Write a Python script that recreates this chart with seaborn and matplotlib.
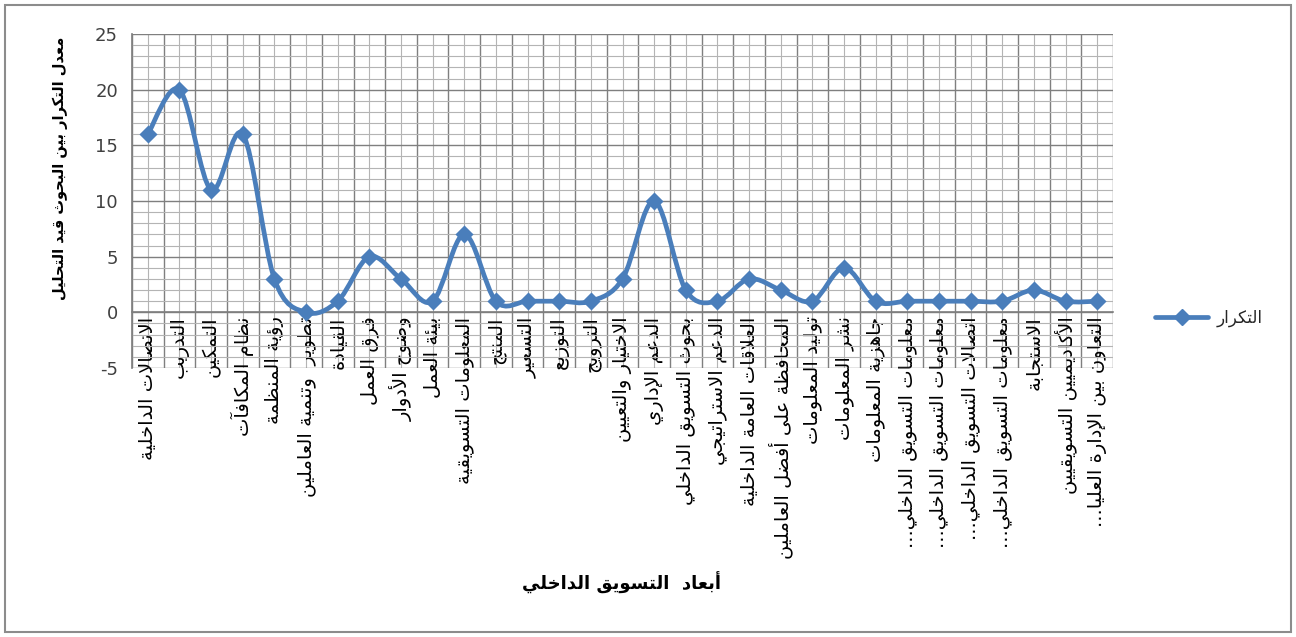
import numpy as np
import pandas as pd
import matplotlib
matplotlib.use("Agg")
import matplotlib.pyplot as plt
import seaborn as sns
from matplotlib.path import Path
from matplotlib.patches import PathPatch, Rectangle
from matplotlib.lines import Line2D
from matplotlib.ticker import MultipleLocator, FixedLocator, NullFormatter, FixedFormatter

# ---------------- data ----------------
categories = [
    "الاتصالات الداخلية", "التدريب", "التمكين", "نظام المكافآت", "رؤية المنظمة",
    "تطوير  وتنمية العاملين", "القيادة", "فرق العمل", "وضوح الأدوار", "بيئة العمل",
    "المعلومات التسويقية", "المنتج", "التسعير", "التوزيع", "الترويج",
    "الاختيار والتعيين", "الدعم الإداري", "بحوث التسويق الداخلي", "الدعم الاستراتيجي",
    "العلاقات العامة الداخلية", "المحافظة على أفضل العاملين", "توليد المعلومات",
    "نشر المعلومات", "جاهزية المعلومات", "معلومات التسويق الداخلي...",
    "معلومات التسويق الداخلي...", "اتصالات التسويق الداخلي...",
    "معلومات التسويق الداخلي...", "الاستجابة", "الأكاديميين التسويقيين",
    "التعاون بين الإدارة العليا...",
]
values = [16, 20, 11, 16, 3, 0, 1, 5, 3, 1, 7, 1, 1, 1, 1, 3, 10, 2, 1, 3, 2, 1, 4, 1, 1, 1, 1, 1, 2, 1, 1]
series_name = "التكرار"
y_label = "معدل التكرار بين البحوث قيد التحليل"
x_label = "أبعاد  التسويق الداخلي"
y_ticks = [-5, 0, 5, 10, 15, 20, 25]

# ---------------- simple Arabic shaping ----------------
_FORMS = {  # isolated, final, initial, medial
    0x0621: (0xFE80, None, None, None),
    0x0622: (0xFE81, 0xFE82, None, None), 0x0623: (0xFE83, 0xFE84, None, None),
    0x0624: (0xFE85, 0xFE86, None, None), 0x0625: (0xFE87, 0xFE88, None, None),
    0x0626: (0xFE89, 0xFE8A, 0xFE8B, 0xFE8C), 0x0627: (0xFE8D, 0xFE8E, None, None),
    0x0628: (0xFE8F, 0xFE90, 0xFE91, 0xFE92), 0x0629: (0xFE93, 0xFE94, None, None),
    0x062A: (0xFE95, 0xFE96, 0xFE97, 0xFE98), 0x062B: (0xFE99, 0xFE9A, 0xFE9B, 0xFE9C),
    0x062C: (0xFE9D, 0xFE9E, 0xFE9F, 0xFEA0), 0x062D: (0xFEA1, 0xFEA2, 0xFEA3, 0xFEA4),
    0x062E: (0xFEA5, 0xFEA6, 0xFEA7, 0xFEA8), 0x062F: (0xFEA9, 0xFEAA, None, None),
    0x0630: (0xFEAB, 0xFEAC, None, None), 0x0631: (0xFEAD, 0xFEAE, None, None),
    0x0632: (0xFEAF, 0xFEB0, None, None), 0x0633: (0xFEB1, 0xFEB2, 0xFEB3, 0xFEB4),
    0x0634: (0xFEB5, 0xFEB6, 0xFEB7, 0xFEB8), 0x0635: (0xFEB9, 0xFEBA, 0xFEBB, 0xFEBC),
    0x0636: (0xFEBD, 0xFEBE, 0xFEBF, 0xFEC0), 0x0637: (0xFEC1, 0xFEC2, 0xFEC3, 0xFEC4),
    0x0638: (0xFEC5, 0xFEC6, 0xFEC7, 0xFEC8), 0x0639: (0xFEC9, 0xFECA, 0xFECB, 0xFECC),
    0x063A: (0xFECD, 0xFECE, 0xFECF, 0xFED0), 0x0641: (0xFED1, 0xFED2, 0xFED3, 0xFED4),
    0x0642: (0xFED5, 0xFED6, 0xFED7, 0xFED8), 0x0643: (0xFED9, 0xFEDA, 0xFEDB, 0xFEDC),
    0x0644: (0xFEDD, 0xFEDE, 0xFEDF, 0xFEE0), 0x0645: (0xFEE1, 0xFEE2, 0xFEE3, 0xFEE4),
    0x0646: (0xFEE5, 0xFEE6, 0xFEE7, 0xFEE8), 0x0647: (0xFEE9, 0xFEEA, 0xFEEB, 0xFEEC),
    0x0648: (0xFEED, 0xFEEE, None, None), 0x0649: (0xFEEF, 0xFEF0, None, None),
    0x064A: (0xFEF1, 0xFEF2, 0xFEF3, 0xFEF4),
}
_LAMALEF = {0x0622: (0xFEF5, 0xFEF6), 0x0623: (0xFEF7, 0xFEF8),
            0x0625: (0xFEF9, 0xFEFA), 0x0627: (0xFEFB, 0xFEFC)}


def _dual(c):
    f = _FORMS.get(ord(c)) if c else None
    return f is not None and f[2] is not None


def _joins(c):
    f = _FORMS.get(ord(c)) if c else None
    return f is not None and f[1] is not None


def shape(text):
    chars = list(text)
    out = []
    i = 0
    n = len(chars)
    while i < n:
        c = chars[i]
        code = ord(c)
        prev = chars[i - 1] if i > 0 else None
        nxt = chars[i + 1] if i + 1 < n else None
        if code not in _FORMS:
            out.append(c)
            i += 1
            continue
        jp = _dual(prev) and _joins(c)
        if code == 0x0644 and nxt is not None and ord(nxt) in _LAMALEF:
            iso, fin = _LAMALEF[ord(nxt)]
            out.append(chr(fin if jp else iso))
            i += 2
            continue
        jn = _dual(c) and _joins(nxt)
        f = _FORMS[code]
        if jp and jn:
            g = f[3]
        elif jp:
            g = f[1]
        elif jn:
            g = f[2]
        else:
            g = f[0]
        out.append(chr(g))
        i += 1
    return "".join(out)[::-1]


# ---------------- figure ----------------
sns.set_theme(style="white")
plt.rcParams["font.family"] = ["DejaVu Sans"]

W, H = 1296, 637
fig = plt.figure(figsize=(W / 100, H / 100), dpi=100)
left, right, top, bottom = 132, 1113, 34, 368
ax = fig.add_axes([left / W, 1 - bottom / H, (right - left) / W, (bottom - top) / H])

blue = "#4a7ebb"
x = np.arange(len(values))
df = pd.DataFrame({"idx": x, "val": values, "cat": categories})

# smoothed line (Excel style) built from the data in data coordinates
pts = np.column_stack([df["idx"].to_numpy(float), df["val"].to_numpy(float)])
verts = [tuple(pts[0])]
codes = [Path.MOVETO]
t = 1 / 6
for k in range(len(pts) - 1):
    p0 = pts[k - 1] if k > 0 else pts[k]
    p1 = pts[k]
    p2 = pts[k + 1]
    p3 = pts[k + 2] if k + 2 < len(pts) else pts[k + 1]
    c1 = p1 + (p2 - p0) * t
    c2 = p2 - (p3 - p1) * t
    verts += [tuple(c1), tuple(c2), tuple(p2)]
    codes += [Path.CURVE4] * 3
ax.add_patch(PathPatch(Path(verts, codes), facecolor="none", edgecolor=blue,
                       linewidth=3.4, zorder=4, capstyle="round", joinstyle="round"))

sns.scatterplot(data=df, x="idx", y="val", marker="D", s=85, color=blue,
                edgecolor=blue, linewidth=0, ax=ax, zorder=5, legend=False)

# axes scales
ax.set_xlim(-0.5, len(values) - 0.5)
ax.set_ylim(-5, 25)
ax.set_xlabel("")
ax.set_ylabel("")

# grid first (it touches tick params)
ax.grid(which="major", axis="both", color="#7f7f7f", linewidth=1.0)
ax.grid(which="minor", axis="both", color="#b4b4b4", linewidth=0.8)
ax.set_axisbelow(True)

# y ticks
ax.yaxis.set_major_locator(FixedLocator(y_ticks))
ax.yaxis.set_major_formatter(FixedFormatter([str(v) for v in y_ticks]))
ax.yaxis.set_minor_locator(MultipleLocator(1))
ax.tick_params(axis="y", which="major", length=7, width=1, color="#808080", pad=3,
               labelsize=13, labelcolor="#404040")
ax.tick_params(axis="y", which="minor", length=0)

# x ticks: boundaries as major (grid), centers as minor (labels + light grid)
ax.xaxis.set_major_locator(FixedLocator(np.arange(len(values) + 1) - 0.5))
ax.xaxis.set_major_formatter(NullFormatter())
ax.xaxis.set_minor_locator(FixedLocator(x))
ax.xaxis.set_minor_formatter(FixedFormatter([shape(c) for c in categories]))
ax.tick_params(axis="x", which="major", length=5, color="#808080", direction="out")
ax.tick_params(axis="x", which="minor", length=0, pad=3, labelrotation=90,
               labelsize=14, labelcolor="#000000")

for s in ["top", "right"]:
    ax.spines[s].set_visible(False)
ax.spines["left"].set_color("#808080")
ax.spines["bottom"].set_color("#808080")
ax.spines["bottom"].set_position(("data", 0))
ax.spines["bottom"].set_linewidth(1.2)

# axis titles
fig.text(60 / W, 1 - 168 / H, shape(y_label), rotation=90, ha="center", va="center",
         fontsize=10.5, fontweight="bold", color="#000000")
fig.text(621 / W, 1 - 583 / H, shape(x_label), ha="center", va="center",
         fontsize=13, fontweight="bold", color="#000000")

# legend
handle = Line2D([], [], color=blue, linewidth=3.4, marker="D", markersize=8.5,
                markerfacecolor=blue, markeredgecolor=blue)
fig.legend([handle], [shape(series_name)], loc="center left",
           bbox_to_anchor=(1140 / W, 1 - 318 / H), frameon=False, fontsize=12,
           handlelength=3.2, handletextpad=0.5)

# outer chart border
fig.patches.append(Rectangle((5 / W, 5 / H), (W - 10) / W, (H - 10) / H,
                             transform=fig.transFigure, fill=False,
                             edgecolor="#8c8c8c", linewidth=1.5))

fig.canvas.draw()
for lab in ax.get_xticklabels(minor=True):
    lab.set_rotation(90)
    lab.set_va("top")
    lab.set_ha("center")

fig.savefig("out.png", dpi=100)
